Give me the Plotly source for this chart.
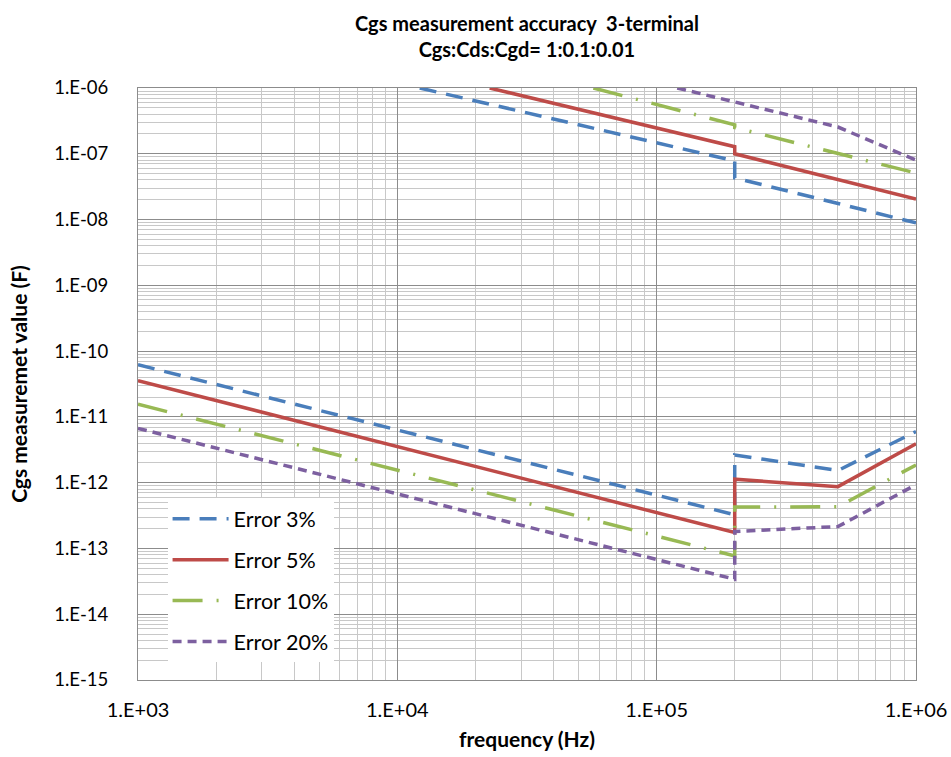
import plotly.graph_objects as go

# ---------------- data ----------------
names = ["Error 3%", "Error 5%", "Error 10%", "Error 20%"]

# upper (large-capacitance) limits
up_x = {
    "Error 3%":  [1.22e4, 2e5, 2e5, 1e6],
    "Error 5%":  [2.27e4, 2e5, 2e5, 1e6],
    "Error 10%": [5.7e4, 2e5, 2e5, 1e6],
    "Error 20%": [1.2e5, 2e5, 5e5, 1e6],
}
up_y = {
    "Error 3%":  [1e-6, 7.8e-8, 4.3e-8, 8.9e-9],
    "Error 5%":  [1e-6, 1.28e-7, 1.0e-7, 2.05e-8],
    "Error 10%": [1e-6, 2.75e-7, 2.5e-7, 5.1e-8],
    "Error 20%": [1e-6, 6.2e-7, 2.55e-7, 8.0e-8],
}
# lower (small-capacitance) limits
lo_x = [1e3, 2e5, 2e5, 5e5, 1e6]
lo_y = {
    "Error 3%":  [6.2e-11, 3.25e-13, 2.64e-12, 1.53e-12, 6.0e-12],
    "Error 5%":  [3.56e-11, 1.75e-13, 1.13e-12, 8.7e-13, 3.9e-12],
    "Error 10%": [1.56e-11, 7.7e-14, 4.25e-13, 4.3e-13, 1.86e-12],
    "Error 20%": [6.7e-12, 3.4e-14, 1.81e-13, 2.15e-13, 9.3e-13],
}

x_ticks = [1e3, 1e4, 1e5, 1e6]
x_ticktext = ["1.E+03", "1.E+04", "1.E+05", "1.E+06"]
y_ticks = [10.0 ** e for e in range(-15, -5)]
y_ticktext = ["1.E-%02d" % (-e) for e in range(-15, -5)]

colors = {"Error 3%": "#4A7EBB", "Error 5%": "#BE4B48",
          "Error 10%": "#98B954", "Error 20%": "#7D60A0"}
dashes = {"Error 3%": "17px,10px", "Error 5%": "solid",
          "Error 10%": "30px,14px,2px,14px", "Error 20%": "9px,6px"}

FONT = "Lato, 'Open Sans', sans-serif"

fig = go.Figure()
for n in names:
    line = dict(color=colors[n], width=3.5, dash=dashes[n])
    fig.add_trace(go.Scatter(x=lo_x, y=lo_y[n], mode="lines", name=n,
                             line=line, legendgroup=n, showlegend=True))
    fig.add_trace(go.Scatter(x=up_x[n], y=up_y[n], mode="lines", name=n,
                             line=line, legendgroup=n, showlegend=False))

minor_x = [m * 10 ** e for e in range(3, 6) for m in range(2, 10)]
minor_y = [m * 10.0 ** e for e in range(-15, -6) for m in range(2, 10)]

fig.update_layout(
    width=951, height=757,
    margin=dict(l=138, r=35, t=88, b=77),
    paper_bgcolor="white", plot_bgcolor="white",
    font=dict(family=FONT, size=20, color="black"),
    title=dict(text="<b>Cgs measurement accuracy  3-terminal<br>Cgs:Cds:Cgd= 1:0.1:0.01</b>",
               x=527 / 951, xanchor="center", xref="container",
               y=(757 - 31) / 757, yanchor="middle", yref="container",
               font=dict(size=20)),
    legend=dict(x=0.038, y=0.030, xanchor="left", yanchor="bottom",
                bgcolor="white", borderwidth=0, font=dict(size=21.5),
                tracegroupgap=10, itemwidth=56),
    showlegend=True,
)
fig.update_xaxes(
    type="log", range=[3, 6], automargin=False,
    tickvals=x_ticks, ticktext=x_ticktext, ticks="",
    ticklabelstandoff=12, tickfont=dict(size=20),
    showgrid=True, gridcolor="#8C8C8C", gridwidth=1,
    minor=dict(tickvals=minor_x, showgrid=True, gridcolor="#C8C8C8", gridwidth=1),
    showline=True, linecolor="#8C8C8C", linewidth=1, mirror=True,
    title=dict(text="<b>frequency (Hz)</b>", standoff=12, font=dict(size=21)),
    zeroline=False,
)
fig.update_yaxes(
    type="log", range=[-15, -6], automargin=False,
    tickvals=y_ticks, ticktext=y_ticktext, ticks="",
    ticklabelstandoff=25, tickfont=dict(size=18.5),
    showgrid=True, gridcolor="#8C8C8C", gridwidth=1,
    minor=dict(tickvals=minor_y, showgrid=True, gridcolor="#C8C8C8", gridwidth=1),
    showline=True, linecolor="#8C8C8C", linewidth=1, mirror=True,
    title=dict(text="<b>Cgs measuremet value (F)</b>", standoff=20, font=dict(size=21)),
    zeroline=False,
)

fig.write_html("out.html")
